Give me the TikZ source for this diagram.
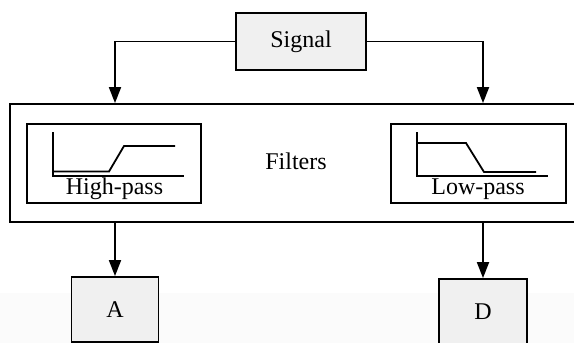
\documentclass[tikz,border=0pt]{standalone}
\usepackage{fontspec}
\setmainfont{Liberation Serif}
\usetikzlibrary{arrows.meta}
\definecolor{boxgray}{HTML}{F0F0F0}

\begin{document}
\begin{tikzpicture}[x=1pt, y=-1pt, line width=1.8pt,
  box/.style={draw, fill=boxgray, inner sep=0pt},
  frame/.style={draw, inner sep=0pt},
  txt/.style={font=\fontsize{24}{28}\selectfont, inner sep=0pt},
  arrow/.style={-{Triangle[length=16pt,width=12pt]}}]
  \useasboundingbox (0,0) rectangle (574,343);
  \fill[gray!3] (0,293) rectangle (574,343);
  % source and outputs
  \node[box, txt, minimum width=130pt, minimum height=57pt] (sig) at (301,41.5) {Signal};
  \node[box, txt, minimum width=87pt, minimum height=65pt] (a) at (115,309.5) {A};
  \node[box, txt, minimum width=88pt, minimum height=66pt] (d) at (483,312) {D};
  % filter bank
  \node[frame, minimum width=590pt, minimum height=118pt] (filt) at (305,163) {};
  \node[txt] (flabel) at (296,161) {Filters};
  \node[frame, minimum width=174pt, minimum height=79pt] (hp) at (114,163.5) {};
  \node[frame, minimum width=175pt, minimum height=79pt] (lp) at (478.5,163.5) {};
  \node[txt] (hplabel) at (114.5,189) {High-pass};
  \node[txt] (lplabel) at (478,189) {Low-pass};
  % high-pass response
  \begin{scope}[shift={(hp.center)}]
    \draw (-61,-31.5) -- (-61,12.5) -- (70,12.5);
    \draw (-61,8) -- (-5,8) -- (10,-17.5) -- (61,-17.5);
  \end{scope}
  % low-pass response
  \begin{scope}[shift={(lp.center)}]
    \draw (-61.5,-31.5) -- (-61.5,12.5) -- (69.5,12.5);
    \draw (-61.5,-20.5) -- (-12.5,-20.5) -- (5.5,8.5) -- (57.5,8.5);
  \end{scope}
  % connectors
  \draw[arrow] (sig.west) -| (filt.north -| a.north);
  \draw[arrow] (sig.east) -| (filt.north -| d.north);
  \draw[arrow] (filt.south -| a.north) -- (a.north);
  \draw[arrow] (filt.south -| d.north) -- (d.north);
\end{tikzpicture}
\end{document}
